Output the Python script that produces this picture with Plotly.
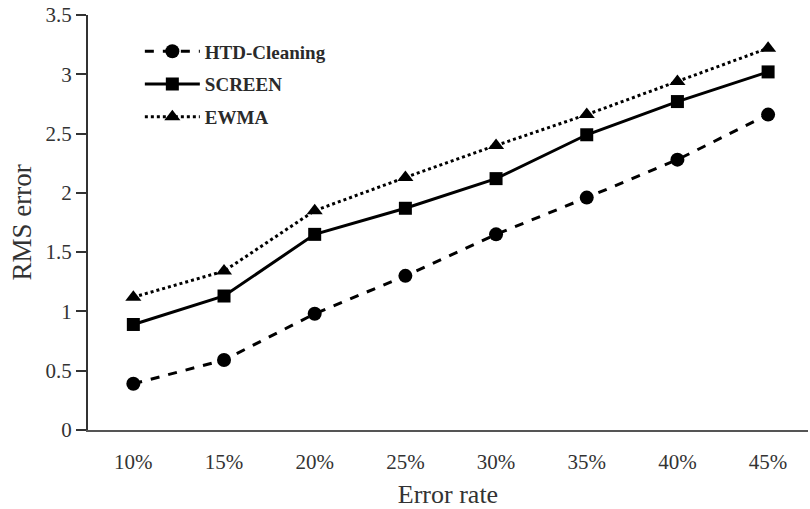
import plotly.graph_objects as go

error_rates = ["10%", "15%", "20%", "25%", "30%", "35%", "40%", "45%"]
htd_cleaning = [0.39, 0.59, 0.98, 1.30, 1.65, 1.96, 2.28, 2.66]
screen = [0.89, 1.13, 1.65, 1.87, 2.12, 2.49, 2.77, 3.02]
ewma = [1.12, 1.34, 1.85, 2.13, 2.40, 2.66, 2.94, 3.22]
y_ticks = [0, 0.5, 1, 1.5, 2, 2.5, 3, 3.5]
y_tick_text = ["0", "0.5", "1", "1.5", "2", "2.5", "3", "3.5"]

x_idx = list(range(len(error_rates)))
font_family = "Liberation Serif, Times New Roman, serif"

fig = go.Figure()
fig.add_trace(go.Scatter(
    x=x_idx, y=htd_cleaning, name="HTD-Cleaning", mode="lines+markers",
    legendgroup="a",
    line=dict(color="black", width=3, dash="dash"),
    marker=dict(symbol="circle", size=14, color="black"),
))
fig.add_trace(go.Scatter(
    x=x_idx, y=screen, name="SCREEN", mode="lines+markers",
    legendgroup="b",
    line=dict(color="black", width=3, dash="solid"),
    marker=dict(symbol="square", size=13, color="black"),
))
fig.add_trace(go.Scatter(
    x=x_idx, y=ewma, name="EWMA", mode="lines+markers",
    legendgroup="c",
    line=dict(color="black", width=3, dash="dot"),
    marker=dict(symbol="triangle-up", size=14, color="black"),
))

fig.update_layout(
    width=810, height=509,
    margin=dict(l=88, r=2, t=15, b=79),
    paper_bgcolor="white", plot_bgcolor="white",
    font=dict(family=font_family, size=21, color="#333333"),
    showlegend=True,
    legend=dict(
        x=0.072, y=0.958, xanchor="left", yanchor="top",
        bgcolor="rgba(0,0,0,0)", borderwidth=0,
        font=dict(family=font_family, size=19, color="#2a2a2a", weight="bold"),
        tracegroupgap=5, itemwidth=55,
    ),
    xaxis=dict(
        range=[-0.5, 7.44],
        tickmode="array", tickvals=x_idx, ticktext=error_rates,
        showline=True, linecolor="#555555", linewidth=2,
        ticks="", showgrid=False, zeroline=False,
        ticklabelstandoff=12,
        title=dict(text="Error rate", font=dict(size=26), standoff=12),
        tickfont=dict(size=21),
    ),
    yaxis=dict(
        range=[0, 3.5],
        tickmode="array", tickvals=y_ticks, ticktext=y_tick_text,
        showline=True, linecolor="#333333", linewidth=2,
        ticks="outside", ticklen=10, tickwidth=2, tickcolor="#333333",
        showgrid=False, zeroline=False,
        title=dict(text="RMS error", font=dict(size=27), standoff=6),
        tickfont=dict(size=21),
    ),
)

fig.write_html("out.html")
